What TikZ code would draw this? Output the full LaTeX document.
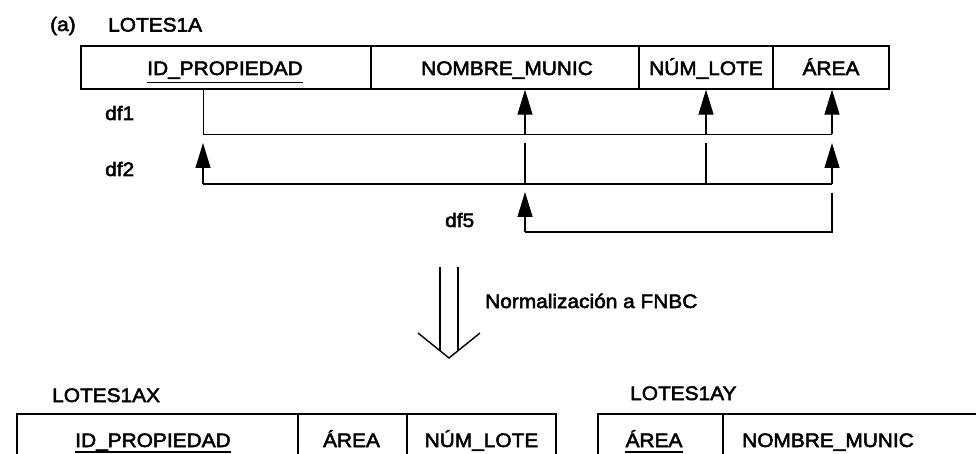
\documentclass[tikz,border=0pt]{standalone}
\usepackage{fontspec}
\setmainfont{Liberation Sans}[FakeStretch=1.07,FakeBold=2.6]
\usetikzlibrary{arrows.meta}
\begin{document}
\begin{tikzpicture}[x=1pt,y=-1pt,
  lbl/.style={font=\fontsize{19.5}{21}\selectfont, inner sep=0pt, anchor=base west},
  ctxt/.style={font=\fontsize{19.5}{21}\selectfont, inner sep=0pt, anchor=base},
  cell/.style={draw, line width=1.3pt, inner sep=0pt, minimum height=43pt},
  bcell/.style={draw, line width=1.3pt, inner sep=0pt, minimum height=56pt},
  fdthin/.style={line width=0.9pt},
  fd/.style={line width=1.2pt},
  uline/.style={line width=1.1pt},
  tip/.style={-{Triangle[length=25pt,width=15pt]}},
]
\useasboundingbox (0,0) rectangle (976,454);
\clip (0,0) rectangle (976,454);

% titles
\node[lbl] (lbla) at (50,31) {(a)};
\node[lbl] (title1) at (108,31.5) {LOTES1A};

% top table
\node[cell, minimum width=290pt] (c1) at (226,67.5) {};
\node[cell, minimum width=268pt] (c2) at (505,67.5) {};
\node[cell, minimum width=134pt] (c3) at (706,67.5) {};
\node[cell, minimum width=116pt] (c4) at (831,67.5) {};
\node[ctxt] (t1) at (225,75) {ID\_PROPIEDAD};
\node[ctxt] (t2) at (507,75) {NOMBRE\_MUNIC};
\node[ctxt] (t3) at (706,75) {NÚM\_LOTE};
\node[ctxt] (t4) at (831,75) {ÁREA};
\draw[uline] ([yshift=-7.5pt]t1.base west) -- ([yshift=-7.5pt]t1.base east);

% df1
\node[lbl] (df1) at (105,120) {df1};
\coordinate (p1) at (203,134);
\coordinate (p3) at (525,134);
\coordinate (p4) at (706,134);
\coordinate (p2) at (832,134);
\draw[fdthin] (c1.south -| p1) -- (p1) -- (p2);
\draw[fd,tip] (p3) -- (c2.south -| p3);
\draw[fd,tip] (p4) -- (c3.south -| p4);
\draw[fd,tip] (p2) -- (c4.south -| p2);

% df2
\node[lbl] (df2) at (105,176) {df2};
\coordinate (q1) at (203,184);
\coordinate (q3) at (525,184);
\coordinate (q4) at (706,184);
\coordinate (q2) at (832,184);
\coordinate (q1t) at (203,143);
\coordinate (q3t) at (525,143);
\coordinate (q4t) at (706,143);
\coordinate (q2t) at (832,143);
\draw[fd] (q1) -- (q2);
\draw[fd,tip] (q1) -- (q1t);
\draw[fd,tip] (q2) -- (q2t);
\draw[fd] (q3t) -- (q3);
\draw[fd] (q4t) -- (q4);

% df5
\node[lbl] (df5) at (445,227) {df5};
\coordinate (r1) at (525,232);
\coordinate (r2) at (832,232);
\coordinate (r1t) at (525,192);
\coordinate (r2t) at (832,193);
\draw[fd] (r2t) -- (r2) -- (r1);
\draw[fd,tip] (r1) -- (r1t);

% normalization arrow
\coordinate (s1) at (440,267);
\coordinate (s2) at (458,267);
\coordinate (s1e) at (440,350.7);
\coordinate (s2e) at (458,350.7);
\coordinate (v1) at (418,333);
\coordinate (v0) at (449,358);
\coordinate (v2) at (480,333);
\draw[fd] (s1) -- (s1e);
\draw[fd] (s2) -- (s2e);
\draw[line width=1.4pt] (v1) -- (v0) -- (v2);
\node[lbl] (norm) at (485,308) {Normalización a FNBC};

% bottom titles
\node[lbl] (title2) at (52,402) {LOTES1AX};
\node[lbl] (title3) at (630,400) {LOTES1AY};

% bottom tables
\node[bcell, minimum width=281pt] (b1) at (157.5,442) {};
\node[bcell, minimum width=109pt] (b2) at (352.5,442) {};
\node[bcell, minimum width=149pt] (b3) at (481.5,442) {};
\node[bcell, minimum width=125pt] (b4) at (660.5,442) {};
\node[bcell, minimum width=300pt] (b5) at (873,442) {};
\node[ctxt] (u1) at (153,447) {ID\_PROPIEDAD};
\node[ctxt] (u2) at (351.5,447) {ÁREA};
\node[ctxt] (u3) at (481.5,447) {NÚM\_LOTE};
\node[ctxt] (u4) at (654,447) {ÁREA};
\node[ctxt] (u5) at (828,447) {NOMBRE\_MUNIC};
\draw[uline] ([yshift=-5pt]u1.base west) -- ([yshift=-5pt]u1.base east);
\draw[uline] ([yshift=-5pt]u4.base west) -- ([yshift=-5pt]u4.base east);
\end{tikzpicture}
\end{document}
